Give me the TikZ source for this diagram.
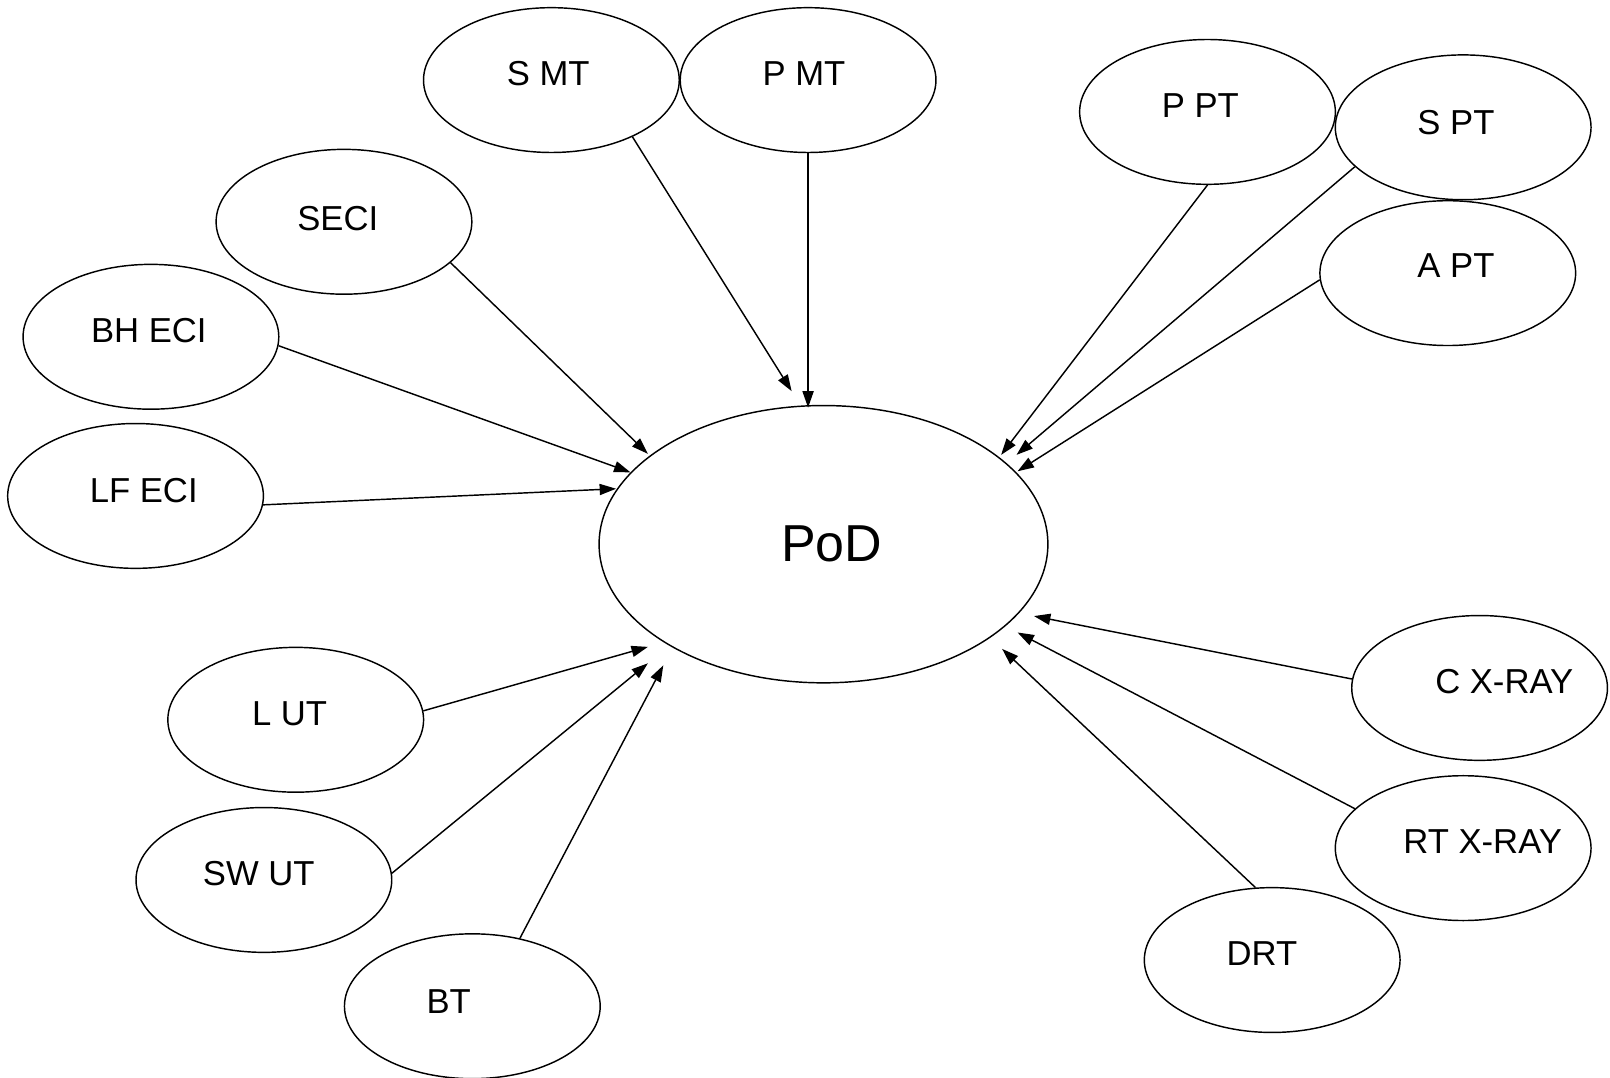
\documentclass[tikz,border=0pt]{standalone}
\usepackage{fontspec}
\setmainfont{Liberation Sans}
\usetikzlibrary{shapes.geometric,arrows.meta}
\begin{document}
\begin{tikzpicture}[x=0.025cm,y=-0.025cm,
  oval/.style={draw, line width=1pt, ellipse, minimum width=6.225cm, minimum height=3.525cm, inner sep=0pt},
  lbl/.style={font=\fontsize{24}{28}\selectfont},
  conn/.style={line width=1pt, -{Triangle[length=0.4cm,width=0.27cm]}}]
\useasboundingbox (0,0) rectangle (1568,1049);
% nodes
\node[oval, label={[lbl, shift={(-3,-6)}]center:S MT}] (smt) at (537,78) {};
\node[oval, label={[lbl, shift={(-4,-6)}]center:P MT}] (pmt) at (787,78) {};
\node[oval, label={[lbl, shift={(-7,-6)}]center:P PT}] (ppt) at (1176,109) {};
\node[oval, label={[lbl, shift={(-7,-5)}]center:S PT}] (spt) at (1425,124) {};
\node[oval, label={[lbl, shift={(8,-7)}]center:A PT}] (apt) at (1410,266) {};
\node[oval, label={[lbl, shift={(-6,-3)}]center:SECI}] (seci) at (335,216) {};
\node[oval, label={[lbl, shift={(-2,-6)}]center:BH ECI}] (bheci) at (147,328) {};
\node[oval, label={[lbl, shift={(8,-5)}]center:LF ECI}] (lfeci) at (132,483) {};
\node[draw, line width=1pt, ellipse, minimum width=10.925cm, minimum height=6.75cm, inner sep=0pt,
      label={[font=\fontsize{36}{40}\selectfont, shift={(8,0)}]center:PoD}] (pod) at (802,530) {};
\node[oval, label={[lbl, shift={(-6,-6)}]center:L UT}] (lut) at (288,701) {};
\node[oval, label={[lbl, shift={(-5,-6)}]center:SW UT}] (swut) at (257,857) {};
\node[oval, label={[lbl, shift={(-23,-5)}]center:BT}] (bt) at (460,980) {};
\node[oval, label={[lbl, shift={(24,-6)}]center:C X-RAY}] (cxray) at (1441,670) {};
\node[oval, label={[lbl, shift={(19,-6)}]center:RT X-RAY}] (rtxray) at (1425,826) {};
\node[oval, label={[lbl, shift={(-10,-6)}]center:DRT}] (drt) at (1239,935) {};
% arrow tips near PoD
\coordinate (tsmt) at (771,381);
\coordinate (tpmt) at (787,397);
\coordinate (tseci) at (631,442);
\coordinate (tbheci) at (614,460);
\coordinate (tlfeci) at (600,476);
\coordinate (tppt) at (975,443);
\coordinate (tspt) at (990,443);
\coordinate (tapt) at (991,459);
\coordinate (tcx) at (1007,600);
\coordinate (trtx) at (991,616);
\coordinate (tdrt) at (976,632);
\coordinate (tlut) at (631,630);
\coordinate (tswut) at (631,646);
\coordinate (tbt) at (646,648);
% connectors
\draw[conn] (smt.-35) -- (tsmt);
\draw[conn] (pmt.south) -- (tpmt);
\draw[conn] (seci.-21) -- (tseci);
\draw[conn] (bheci.-4) -- (tbheci);
\draw[conn] (lfeci.-4) -- (tlfeci);
\draw[conn] (ppt.south) -- (tppt);
\draw[conn] (spt.-160) -- (tspt);
\draw[conn] (apt.-177) -- (tapt);
\draw[conn] (cxray.176) -- (tcx);
\draw[conn] (rtxray.160) -- (trtx);
\draw[conn] (drt.103) -- (tdrt);
\draw[conn] (lut.4) -- (tlut);
\draw[conn] (swut.3) -- (tswut);
\draw[conn] (bt.55) -- (tbt);
\end{tikzpicture}
\end{document}
